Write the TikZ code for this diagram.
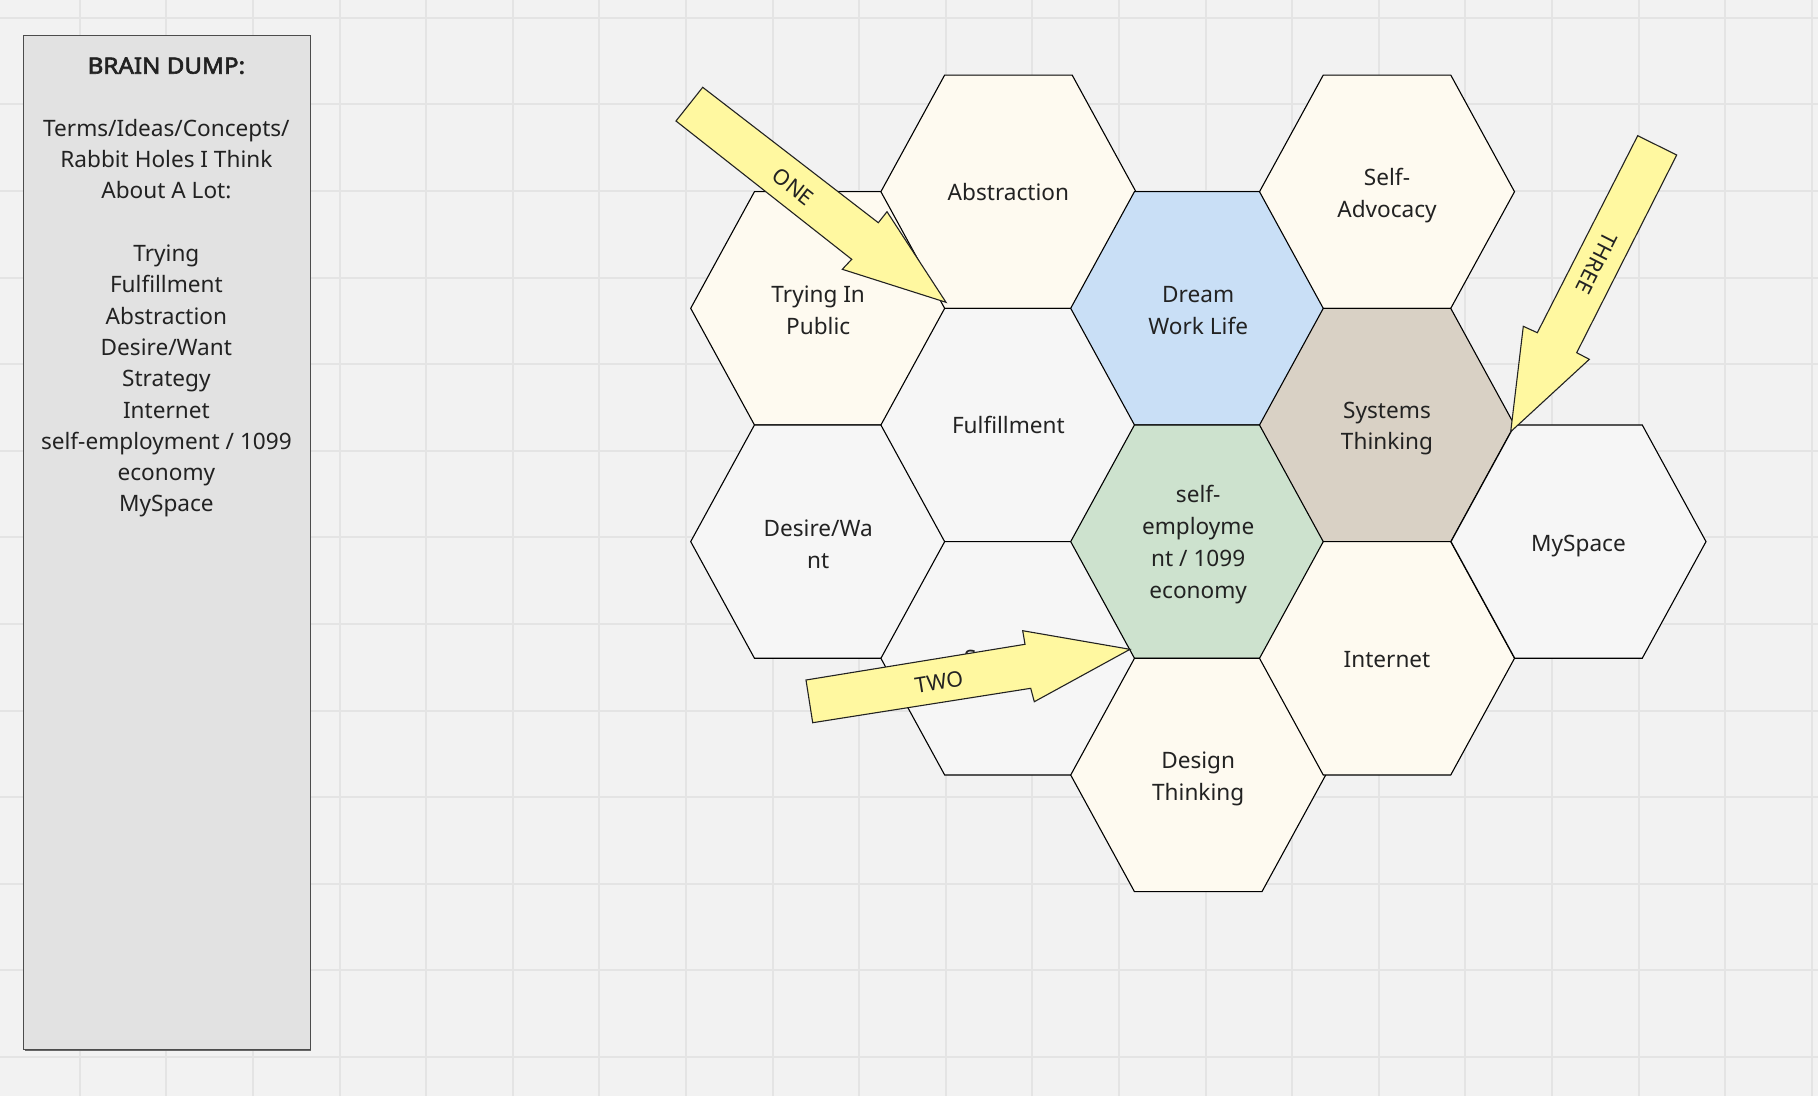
\documentclass[tikz,border=0pt]{standalone}
\usepackage{fontspec}
\setmainfont{Noto Sans}
\newfontfamily\fakebold{Noto Sans}[FakeBold=2.6]
\definecolor{bg}{HTML}{F2F2F2}
\definecolor{gridc}{HTML}{E4E4E4}
\definecolor{cream}{HTML}{FEFAF0}
\definecolor{lgray}{HTML}{F6F6F6}
\definecolor{dblue}{HTML}{C9DFF6}
\definecolor{dgreen}{HTML}{CDE2CE}
\definecolor{dtan}{HTML}{D9D1C5}
\definecolor{panelc}{HTML}{E2E2E2}
\definecolor{arrowy}{HTML}{FFF8A0}
\definecolor{ink}{HTML}{222222}
\tikzset{
  hexshape/.style={draw=black, line width=1.1pt, line join=miter},
  hexlabel/.style={align=center, text=ink, font=\fontsize{22.6}{31.8}\selectfont, inner sep=0pt},
  blockarrow/.style={fill=arrowy, draw=ink, line width=1.1pt, line join=miter},
  arrowlabel/.style={text=ink, font=\fontsize{21.5}{25}\selectfont, inner sep=0pt},
  gridline/.style={draw=gridc, line width=2pt},
}
\newcommand\myhex[6]{%
  \filldraw[hexshape, fill=#4] ({#2-127.5},#3) -- ({#2-63.75},{#3-116.65}) -- ({#2+63.75},{#3-116.65}) -- ({#2+127.5},#3) -- ({#2+63.75},{#3+116.65}) -- ({#2-63.75},{#3+116.65}) -- cycle;
  \node[hexlabel, #6] (#1) at (#2,#3) {#5};
}
\begin{document}
\begin{tikzpicture}[x=1pt,y=-1pt]
\useasboundingbox (0,0) rectangle (1818,1096);
\fill[bg] (0,0) rectangle (1818,1096);
\foreach \k in {-7,...,13} \draw[gridline] ({686+86.6*\k},0) -- ({686+86.6*\k},1096);
\foreach \k in {-1,...,11} \draw[gridline] (0,{104.3+86.6*\k}) -- (1818,{104.3+86.6*\k});

% left panel
\fill[black!60] (25,36.6) rectangle (311.2,1051);
\node[draw=black!70, line width=1.1pt, fill=panelc, minimum width=286.4pt, minimum height=1014.5pt, anchor=north west, inner sep=0pt] (panel) at (23.2,34.8) {};
\node[anchor=north, align=center, text=ink, font=\fontsize{22.6}{31.3}\selectfont, inner sep=0pt] (dump) at (166.4,57.3) {%
{\fakebold\scalebox{1.07}[1]{BRAIN DUMP:}}\\[31.3pt]
Terms/Ideas/Concepts/\\
Rabbit Holes I Think\\
About A Lot:\\[31.3pt]
Trying\\
Fulfillment\\
Abstraction\\
Desire/Want\\
Strategy\\
Internet\\
self-employment / 1099\\
economy\\
MySpace};

% hexagons
\myhex{trying}{818.2}{308.3}{cream}{Trying In\\Public}{yshift=-2pt}
\myhex{desire}{818.2}{541.6}{lgray}{Desire/Wa\\nt}{yshift=-2.5pt}
\myhex{abstraction}{1008.4}{191.7}{cream}{Abstraction}{}
\myhex{fulfillment}{1008.4}{425.0}{lgray}{Fulfillment}{}
\myhex{strategy}{1008.4}{658.3}{lgray}{Strategy}{yshift=-2.5pt}
\myhex{dream}{1198.2}{308.3}{dblue}{Dream\\Work Life}{yshift=-2pt}
\myhex{selfemp}{1198.2}{541.6}{dgreen}{self-\\employme\\nt / 1099\\economy}{yshift=-3pt}
\myhex{design}{1198.2}{775.0}{cream}{Design\\Thinking}{yshift=-4pt}
\myhex{selfadv}{1387.0}{191.7}{cream}{Self-\\Advocacy}{yshift=-3.5pt}
\myhex{systems}{1387.0}{425.0}{dtan}{Systems\\Thinking}{yshift=-3.5pt}
\myhex{internet}{1387.0}{658.3}{cream}{Internet}{yshift=-1pt}
\myhex{myspace}{1578.5}{541.6}{lgray}{MySpace}{yshift=-4.5pt}

% block arrows
\draw[blockarrow] (702.7,87.3) -- (878.3,222.7) -- (887,211.7) -- (946,302.3) -- (842.3,269.3) -- (851.7,259.3) -- (676,121) -- cycle;
\node[arrowlabel, rotate=-37.9] (one) at (793.3,186.7) {ONE};
\draw[blockarrow] (806,680) -- (1025,644.3) -- (1022.7,630.7) -- (1130,649.3) -- (1034.3,701.7) -- (1030.7,688.3) -- (812.7,722.7) -- cycle;
\node[arrowlabel, rotate=9.2] (two) at (939,681.7) {TWO};
\draw[blockarrow] (1637.7,135.7) -- (1676.7,155) -- (1576.7,352.7) -- (1589.3,359.3) -- (1510.7,431.7) -- (1523.3,326.3) -- (1537.3,332.7) -- cycle;
\node[arrowlabel, rotate=-116.9] (three) at (1596.7,263.3) {THREE};
\end{tikzpicture}
\end{document}
